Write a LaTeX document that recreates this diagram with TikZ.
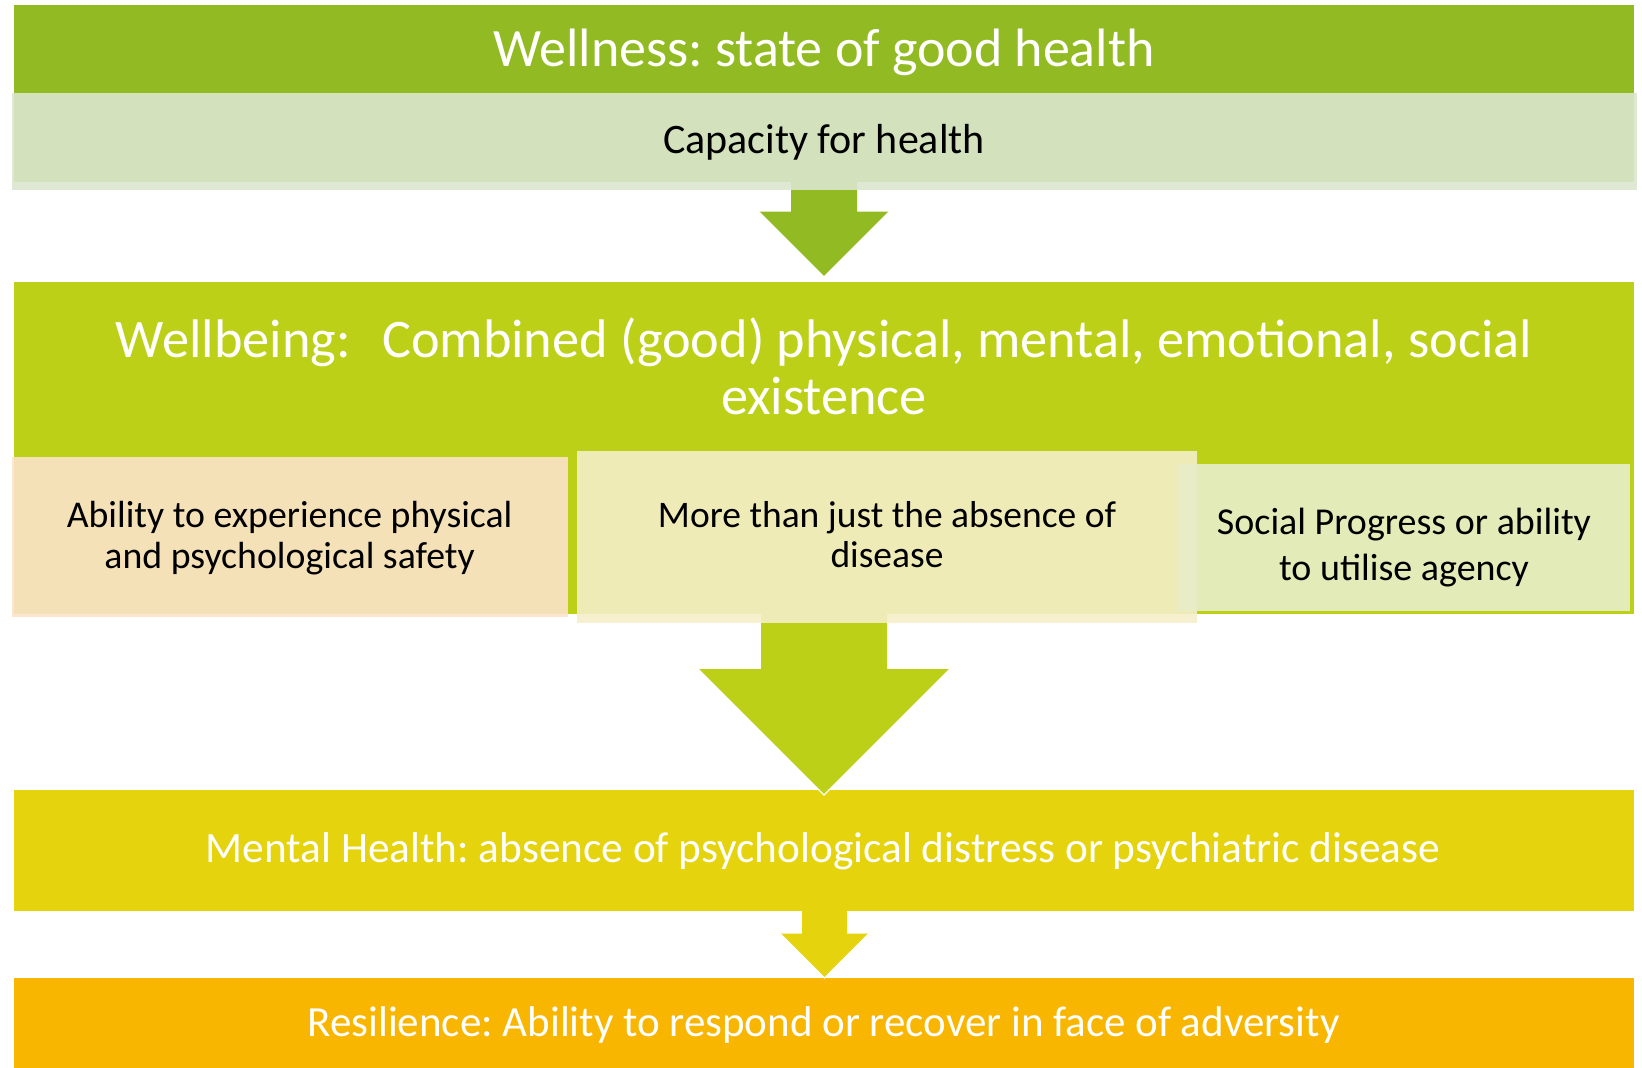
\documentclass[tikz,border=0pt]{standalone}
\usepackage{fontspec}
\setmainfont{Carlito}
\usetikzlibrary{calc}

\definecolor{wellnessgreen}{HTML}{92BB23}
\definecolor{capacitygreen}{HTML}{DBE6CD}
\definecolor{wellbeinglime}{HTML}{BDD018}
\definecolor{safetypeach}{HTML}{FCE3CA}
\definecolor{diseasecream}{HTML}{F5EEC9}
\definecolor{agencypale}{HTML}{E8EECA}
\definecolor{mentalyellow}{HTML}{E4D30D}
\definecolor{resilienceorange}{HTML}{F9B600}

% block arrow pointing down: colour, stem top, tip, half stem width, head length
\newcommand{\flowarrow}[5]{%
  \fill[#1] ($(#2)+(-#4,0)$) -- ($(#2)+(#4,0)$) -- ($(#3)+(#4,-#5)$)
    -- ($(#3)+(#5,-#5)$) -- (#3) -- ($(#3)+(-#5,-#5)$) -- ($(#3)+(-#4,-#5)$) -- cycle;
  \draw[white, line width=1.2pt] ($(#3)+(#5,-#5)$) -- (#3) -- ($(#3)+(-#5,-#5)$);}

\begin{document}
\frenchspacing
\begin{tikzpicture}[
    x=1pt, y=-1pt,
    bar/.style={rectangle, inner sep=0pt, outer sep=0pt, anchor=north west},
    panel/.style={bar, fill opacity=0.9},
    heading/.style={font=\fontsize{54}{57}\selectfont, text=white, anchor=base,
        text width=1560pt, align=flush center},
    bandtext/.style={font=\fontsize{43.3}{46}\selectfont, text=white, anchor=base},
    boxtext/.style={font=\fontsize{37.5}{41}\selectfont, text=black, anchor=base,
        text width=#1, align=flush center},
    boxtext/.default=520pt
]
    \useasboundingbox (0,0) rectangle (1642,1068);

    % coloured bands
    \node[bar, fill=wellnessgreen, minimum width=1620.5pt, minimum height=176.5pt] (wellness) at (13.5,5) {};
    \node[bar, fill=wellbeinglime, minimum width=1620.5pt, minimum height=332pt] (wellbeing) at (13.5,281.5) {};
    \node[bar, fill=mentalyellow, minimum width=1620.5pt, minimum height=121pt] (mental) at (13.5,789.5) {};
    \node[bar, fill=resilienceorange, minimum width=1620.5pt, minimum height=91pt] (resilience) at (13.5,977.5) {};

    % arrows between the bands
    \coordinate (top1) at (824,170);
    \coordinate (tip1) at (824,277);
    \coordinate (top2) at (824,600);
    \coordinate (tip2) at (824,795);
    \coordinate (top3) at (824.5,905);
    \coordinate (tip3) at (824.5,978);
    \flowarrow{wellnessgreen}{top1}{tip1}{33}{65.5}
    \flowarrow{wellbeinglime}{top2}{tip2}{63}{126}
    \flowarrow{mentalyellow}{top3}{tip3}{22.5}{44.5}

    % light panels laid over the bands
    \node[panel, fill=capacitygreen, minimum width=1625pt, minimum height=97pt] (capacity) at (11.5,93) {};
    \node[panel, fill=safetypeach, minimum width=556pt, minimum height=160.5pt] (safety) at (11.5,456.5) {};
    \node[panel, fill=diseasecream, minimum width=620pt, minimum height=172.5pt] (disease) at (577,450.5) {};
    \node[panel, fill=agencypale, minimum width=452pt, minimum height=147pt] (agency) at (1178,464) {};

    % texts
    \node[heading] (wellnesstxt) at (824,66.7) {Wellness: state of good health};
    \node[font=\fontsize{42}{46}\selectfont, anchor=base] (capacitytxt) at (824,153) {Capacity for health};
    \node[heading, font=\fontsize{54.3}{57}\selectfont] (wellbeingtxt) at (824,357)
        {Wellbeing:\hspace{0.58em}Combined (good) physical, mental, emotional, social\\existence};
    \node[boxtext, font=\fontsize{37.8}{41}\selectfont] (safetytxt) at (289.6,527.3) {Ability to experience physical\\and psychological safety};
    \node[boxtext, font=\fontsize{37.5}{40}\selectfont] (diseasetxt) at (887,527) {More than just the absence of\\disease};
    \node[boxtext=440pt, font=\fontsize{38}{46}\selectfont] (agencytxt) at (1404,534) {Social Progress or ability\\to utilise agency};
    \node[bandtext] (mentaltxt) at (823,862) {Mental Health: absence of psychological distress or psychiatric disease};
    \node[bandtext, font=\fontsize{43}{46}\selectfont] (resiliencetxt) at (823.5,1036) {Resilience: Ability to respond or recover in face of adversity};
\end{tikzpicture}
\end{document}
